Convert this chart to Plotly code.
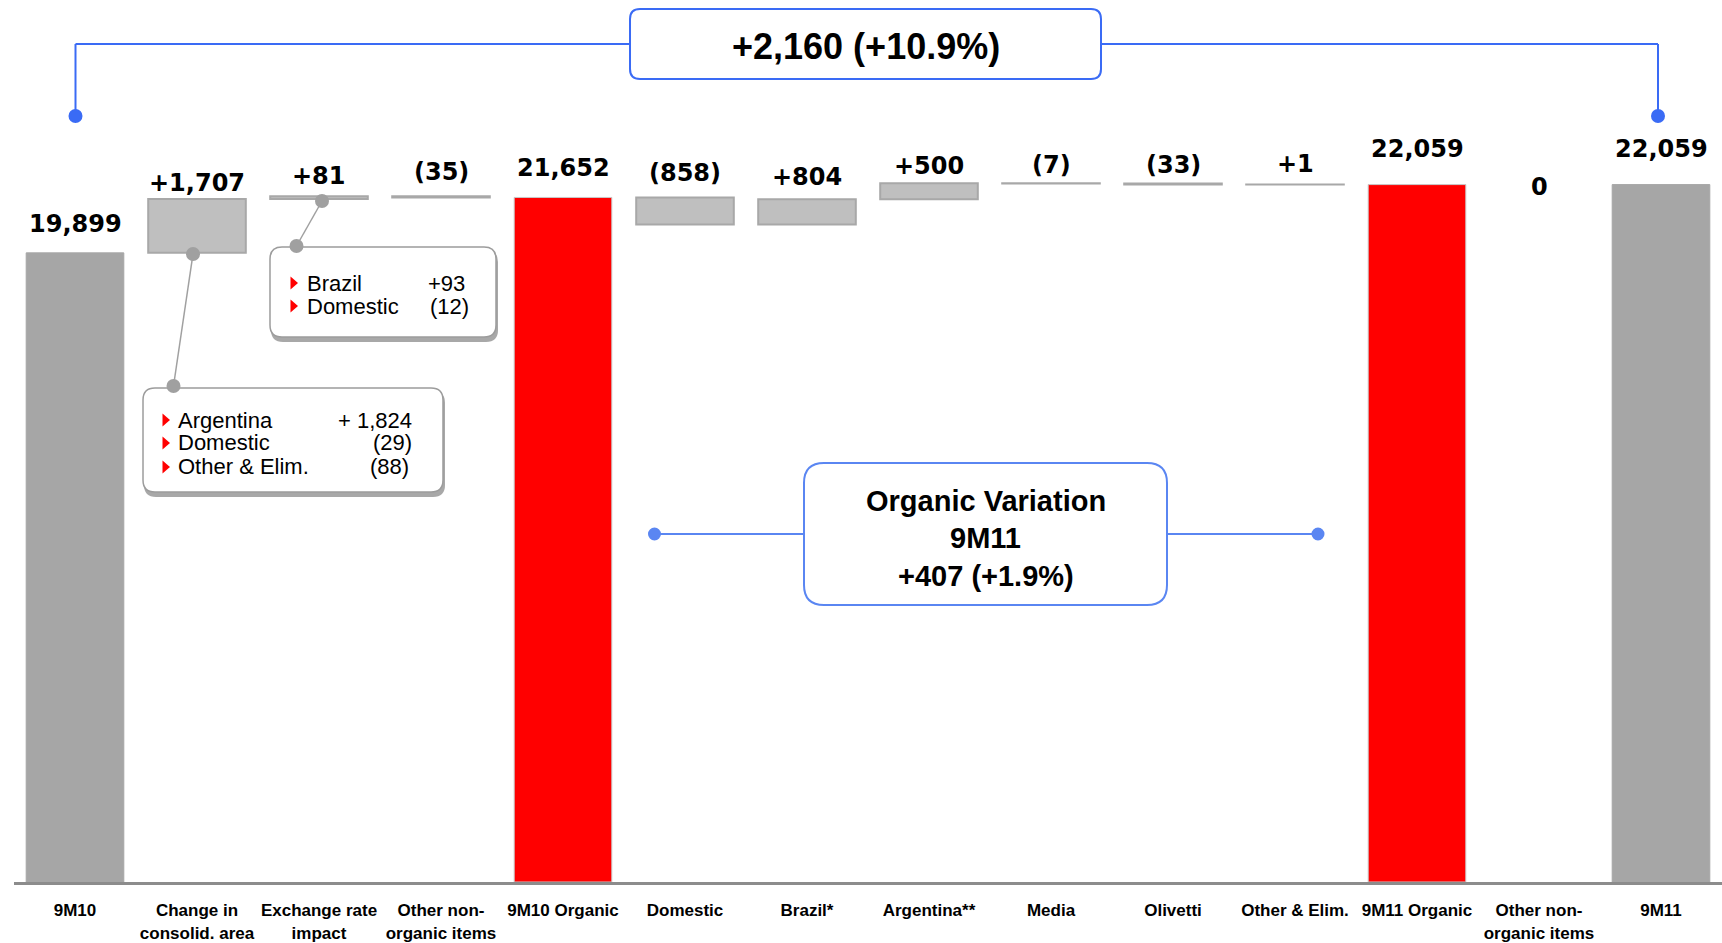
import plotly.graph_objects as go

# ---------------- data ----------------
categories = ["9M10", "Change in<br>consolid. area", "Exchange rate<br>impact",
              "Other non-<br>organic items", "9M10 Organic", "Domestic", "Brazil*",
              "Argentina**", "Media", "Olivetti", "Other & Elim.", "9M11 Organic",
              "Other non-<br>organic items", "9M11"]
values = [19899, 1707, 81, -35, 21652, -858, 804, 500, -7, -33, 1, 22059, 0, 22059]
measures = ["total", "relative", "relative", "relative", "total", "relative", "relative",
            "relative", "relative", "relative", "relative", "total", "relative", "total"]
highlight = [False, False, False, False, True, False, False, False, False, False, False,
             True, False, False]

top_label = "+2,160 (+10.9%)"
organic_label = ["Organic Variation", "9M11", "+407 (+1.9%)"]
callout1_names = ["Brazil", "Domestic"]
callout1_vals = ["+93", "(12)"]
callout2_names = ["Argentina", "Domestic", "Other & Elim."]
callout2_vals = ["+ 1,824", "(29)", "(88)"]

# label vertical offsets (px above bar top) - styling only
label_shift = [29, 16, 20, 24, 29, 24, 22, 17, 18, 18.5, 20.5, 35.5, -2.5, 35.5]

# ---------------- layout geometry ----------------
W, H = 1722, 943
ML, MR, MT, MB = 14, 0, 0, 61
PW, PH = W - ML - MR, H - MT - MB
PX_PER_UNIT = 0.031616
YMAX = PH / PX_PER_UNIT


def fx(x):
    return (x - ML) / PW


def fy(y):
    return (PH + MT - y) / PH


def fmt(v, m):
    if m == "total":
        return f"{v:,}"
    if v > 0:
        return f"+{v:,}"
    if v < 0:
        return f"({-v:,})"
    return "0"


# compute waterfall bases
bases, heights, tops = [], [], []
level = 0
for v, m in zip(values, measures):
    if m == "total":
        bases.append(0)
        heights.append(v)
        level = v
    else:
        bases.append(min(level, level + v))
        heights.append(abs(v))
        level += v
    tops.append(bases[-1] + heights[-1])

colors, lcolors, lwidths = [], [], []
for v, m, hl in zip(values, measures, highlight):
    if hl:
        colors.append("#FF0000"); lcolors.append("#C8C8C8"); lwidths.append(1)
    elif m == "total":
        colors.append("#A6A6A6"); lcolors.append("#A6A6A6"); lwidths.append(1)
    else:
        colors.append("#BFBFBF"); lcolors.append("#A8A8A8")
        lwidths.append(0 if v == 0 else 2)

xpos = list(range(len(categories)))

fig = go.Figure()
fig.add_trace(go.Bar(
    x=xpos, y=heights, base=bases,
    marker=dict(color=colors, line=dict(color=lcolors, width=lwidths)),
    hoverinfo="skip", showlegend=False,
))

annotations = []
for i, (v, m) in enumerate(zip(values, measures)):
    annotations.append(dict(
        x=xpos[i], y=tops[i], xref="x", yref="y", text=fmt(v, m), showarrow=False,
        yanchor="middle", xanchor="center", yshift=label_shift[i],
        font=dict(family="DejaVu Sans", size=24, color="#000000", weight="bold"),
    ))

shapes = []
BLUE = "#3A6BF5"
BLUE2 = "#5A86F2"
GREY = "#A0A0A0"


def rrect_path(x0, y0, x1, y1, r):
    pts = [("M", x0 + r, y0), ("L", x1 - r, y0), ("Q", x1, y0, x1, y0 + r),
           ("L", x1, y1 - r), ("Q", x1, y1, x1 - r, y1), ("L", x0 + r, y1),
           ("Q", x0, y1, x0, y1 - r), ("L", x0, y0 + r), ("Q", x0, y0, x0 + r, y0)]
    s = ""
    for p in pts:
        cmd = p[0]
        coords = p[1:]
        cs = []
        for k in range(0, len(coords), 2):
            cs.append(f"{fx(coords[k]):.5f},{fy(coords[k+1]):.5f}")
        s += cmd + " " + " ".join(cs) + " "
    return s + "Z"


def line(x0, y0, x1, y1, color, width):
    shapes.append(dict(type="line", xref="paper", yref="paper",
                       x0=fx(x0), y0=fy(y0), x1=fx(x1), y1=fy(y1),
                       line=dict(color=color, width=width), layer="above"))


def dot(x, y, r, color):
    shapes.append(dict(type="circle", xref="paper", yref="paper",
                       x0=fx(x - r), x1=fx(x + r), y0=fy(y + r), y1=fy(y - r),
                       fillcolor=color, line=dict(width=0), layer="above"))


def tri(x, y, color="#FF0000"):
    p = f"M {fx(x-3.5):.5f},{fy(y-6.5):.5f} L {fx(x+4):.5f},{fy(y):.5f} L {fx(x-3.5):.5f},{fy(y+6.5):.5f} Z"
    shapes.append(dict(type="path", xref="paper", yref="paper", path=p,
                       fillcolor=color, line=dict(width=0), layer="above"))


# top bracket
line(75.5, 116, 75.5, 44, BLUE, 2)
line(75.5, 44, 1658, 44, BLUE, 2)
line(1658, 44, 1658, 116, BLUE, 2)
dot(75.5, 116, 7, BLUE)
dot(1658, 116, 7, BLUE)
shapes.append(dict(type="path", xref="paper", yref="paper",
                   path=rrect_path(630, 9, 1101, 79, 10),
                   fillcolor="white", line=dict(color=BLUE, width=2), layer="above"))
annotations.append(dict(x=fx(866), y=fy(46), xref="paper", yref="paper",
                        text=top_label, showarrow=False, xanchor="center", yanchor="middle",
                        font=dict(family="Liberation Sans", size=36, color="#000",
                                  weight="bold")))

# organic variation
line(654.5, 534, 1318, 534, BLUE2, 2)
dot(654.5, 534, 6.5, BLUE2)
dot(1318, 534, 6.5, BLUE2)
shapes.append(dict(type="path", xref="paper", yref="paper",
                   path=rrect_path(804, 463, 1167, 605, 20),
                   fillcolor="white", line=dict(color=BLUE2, width=2), layer="above"))
for k, (t, yy) in enumerate(zip(organic_label, [501, 538, 576.5])):
    annotations.append(dict(x=fx(986), y=fy(yy), xref="paper", yref="paper",
                            text=t, showarrow=False, xanchor="center", yanchor="middle",
                            font=dict(family="Liberation Sans", size=29, color="#000",
                                      weight="bold")))


# callout boxes
def callout(x0, y0, x1, y1, names, vals, ys, tx, nx, vx):
    shapes.append(dict(type="path", xref="paper", yref="paper",
                       path=rrect_path(x0 + 1, y0 + 3, x1 + 2, y1 + 5, 12),
                       fillcolor="#A8A8A8", line=dict(width=0), layer="above"))
    shapes.append(dict(type="path", xref="paper", yref="paper",
                       path=rrect_path(x0, y0, x1, y1, 12),
                       fillcolor="white", line=dict(color="#9C9C9C", width=1.5),
                       layer="above"))
    for n, v, yy, vxx in zip(names, vals, ys, vx):
        tri(tx, yy)
        annotations.append(dict(x=fx(nx), y=fy(yy), xref="paper", yref="paper",
                                text=n, showarrow=False, xanchor="left", yanchor="middle",
                                font=dict(family="Liberation Sans", size=22, color="#000")))
        annotations.append(dict(x=fx(vxx), y=fy(yy), xref="paper", yref="paper",
                                text=v, showarrow=False, xanchor="right", yanchor="middle",
                                font=dict(family="Liberation Sans", size=22, color="#000")))


callout(270, 247, 496, 337, callout1_names, callout1_vals, [283, 306], 294, 305,
        [467, 471])
callout(143, 388, 443, 492, callout2_names, callout2_vals, [420, 443, 467], 166, 176,
        [414, 414, 411])

# connectors
line(322, 201, 296.5, 246, GREY, 1.5)
dot(322, 201, 7, GREY)
dot(296.5, 246, 7, GREY)
line(193, 254, 173.5, 386, GREY, 1.5)
dot(193, 254, 7, GREY)
dot(173.5, 386, 7, GREY)

fig.update_layout(
    width=W, height=H,
    margin=dict(l=ML, r=MR, t=MT, b=MB),
    paper_bgcolor="white", plot_bgcolor="white",
    bargap=0.2,
    xaxis=dict(range=[-0.5, 13.5], showgrid=False, zeroline=False,
               tickmode="array", tickvals=xpos, ticktext=categories,
               showline=True, linecolor="#8C8C8C", linewidth=3,
               ticks="outside", ticklen=11, tickcolor="rgba(0,0,0,0)",
               tickfont=dict(family="Liberation Sans", size=17, color="#000",
                             weight="bold"),
               automargin=False, fixedrange=True),
    yaxis=dict(range=[0, YMAX], visible=False, automargin=False, fixedrange=True),
    annotations=annotations,
    shapes=shapes,
)

fig.write_html("out.html")
